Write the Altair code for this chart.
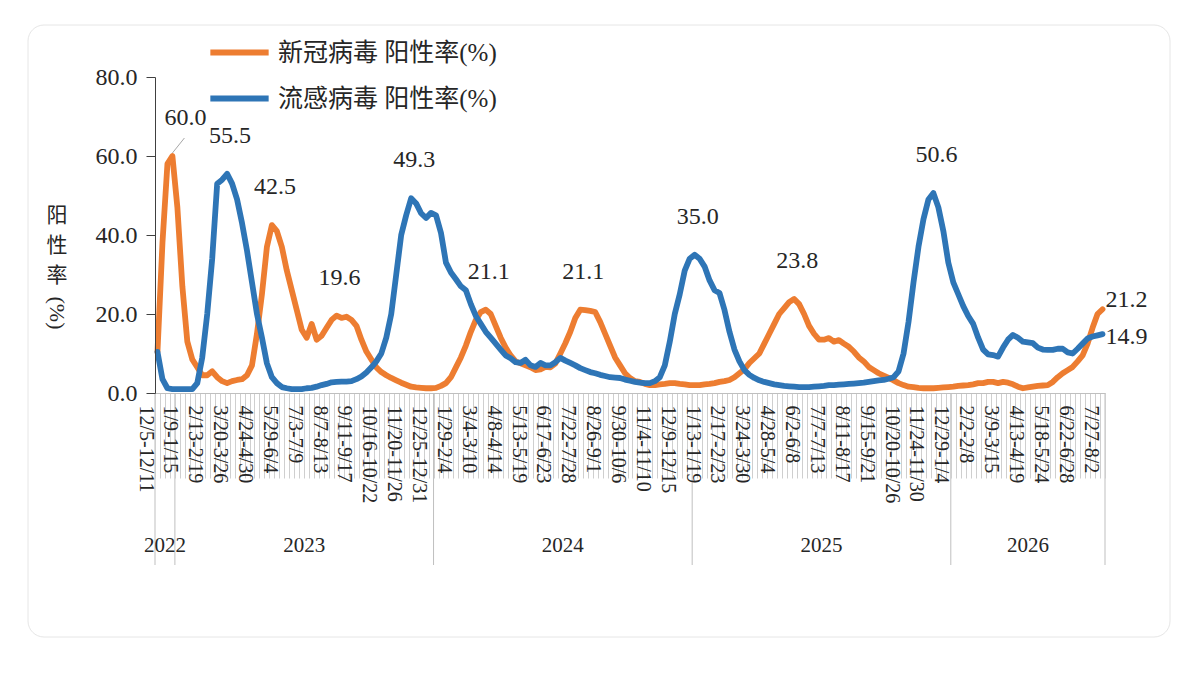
import json
import altair as alt
import pandas as pd

# ---------------- data ----------------
week_count = 191  # weekly, 12/5-12/11 (2022) ... 7/27-8/2 (2026)

tick_labels = [
    "12/5-12/11", "1/9-1/15", "2/13-2/19", "3/20-3/26", "4/24-4/30", "5/29-6/4",
    "7/3-7/9", "8/7-8/13", "9/11-9/17", "10/16-10/22", "11/20-11/26", "12/25-12/31",
    "1/29-2/4", "3/4-3/10", "4/8-4/14", "5/13-5/19", "6/17-6/23", "7/22-7/28",
    "8/26-9/1", "9/30-10/6", "11/4-11/10", "12/9-12/15", "1/13-1/19", "2/17-2/23",
    "3/24-3/30", "4/28-5/4", "6/2-6/8", "7/7-7/13", "8/11-8/17", "9/15-9/21",
    "10/20-10/26", "11/24-11/30", "12/29-1/4", "2/2-2/8", "3/9-3/15", "4/13-4/19",
    "5/18-5/24", "6/22-6/28", "7/27-8/2",
]
tick_every = 5

year_names = ["2022", "2023", "2024", "2025", "2026"]
year_weeks = [4, 52, 52, 52, 31]

series_names = ["新冠病毒 阳性率(%)", "流感病毒 阳性率(%)"]

covid = [
    10.5, 38, 58, 60.0, 47, 27, 13, 8.5, 6.5, 4.5,
    4.5, 5.5, 4, 3, 2.5, 3, 3.3, 3.5, 4.5, 7,
    15, 25, 37, 42.5, 41, 37, 31, 26, 21, 16,
    14, 17.5, 13.5, 14.5, 16.5, 18.5, 19.6, 19, 19.3, 18.5,
    17, 13.5, 10.5, 8.5, 6.5, 5.3, 4.5, 3.8, 3.2, 2.6,
    2.1, 1.6, 1.4, 1.3, 1.2, 1.2, 1.3, 1.8, 2.5, 4,
    6.5, 9, 12, 15.5, 18.5, 20.5, 21.1, 20, 17, 14,
    11.5, 9.5, 8, 7.5, 7, 6.5, 5.8, 6, 6.6, 6.5,
    7.5, 10, 12.6, 15.5, 19, 21.1, 21, 20.8, 20.5, 18,
    15, 12, 9, 7, 5, 3.8, 3, 2.8, 2.3, 2,
    2, 2.2, 2.3, 2.5, 2.5, 2.3, 2.2, 2, 2, 2,
    2.2, 2.3, 2.5, 2.8, 3, 3.3, 4, 5, 6, 7.6,
    8.8, 10, 12.5, 15, 17.5, 20, 21.5, 23, 23.8, 22.5,
    20, 17, 15, 13.5, 13.5, 13.9, 13, 13.4, 12.5, 11.7,
    10.5, 9, 8, 6.6, 5.8, 5, 4.4, 3.8, 3.2, 2.5,
    2, 1.6, 1.5, 1.3, 1.2, 1.2, 1.2, 1.3, 1.4, 1.5,
    1.6, 1.8, 1.9, 2, 2.2, 2.5, 2.5, 2.8, 2.8, 2.5,
    2.8, 2.6, 2.2, 1.6, 1.2, 1.4, 1.6, 1.8, 1.9, 2,
    2.8, 4, 5, 5.8, 6.6, 8, 9.5, 12.5, 16.5, 20,
    21.2,
]

flu = [
    10.4, 3.5, 1.2, 1.0, 1.0, 1.0, 1.0, 1.0, 2.5, 9,
    20, 34, 53, 54, 55.5, 53, 49, 43, 36, 28,
    20, 14, 7.5, 4, 2.5, 1.5, 1.2, 1.0, 1.0, 1.0,
    1.2, 1.3, 1.6, 2, 2.3, 2.7, 2.8, 2.9, 2.9, 3.0,
    3.5, 4.2, 5.2, 6.5, 8, 10, 14, 20, 30, 40,
    45, 49.3, 48, 45.5, 44.3, 45.6, 45, 40.5, 33, 30.5,
    28.8, 27, 26, 22.5, 19.5, 17.5, 15.5, 14, 12.5, 11,
    9.5, 8.8, 7.8, 7.6, 8.4, 7, 6.6, 7.6, 7, 7,
    7.8, 8.9, 8.2, 7.6, 7, 6.3, 5.8, 5.3, 5, 4.6,
    4.3, 4, 3.9, 3.8, 3.4, 3.1, 2.8, 2.6, 2.5, 2.5,
    3, 4, 7, 13, 20, 25, 31, 34, 35.0, 34,
    32, 28.5, 26, 25.3, 21, 15.5, 11, 8, 5.8, 4.6,
    3.8, 3.2, 2.8, 2.5, 2.2, 2, 1.8, 1.7, 1.6, 1.5,
    1.5, 1.5, 1.6, 1.7, 1.8, 2, 2, 2.1, 2.2, 2.3,
    2.4, 2.5, 2.6, 2.8, 3, 3.2, 3.3, 3.6, 4, 5.5,
    10, 18, 28, 37, 44, 49, 50.6, 47, 41, 33,
    28, 25, 22, 19.5, 17.5, 14, 11, 9.8, 9.6, 9.2,
    11.5, 13.5, 14.7, 14, 13, 12.8, 12.6, 11.5, 11, 10.9,
    10.9, 11.2, 11.2, 10.3, 10, 11.2, 12.5, 13.8, 14.3, 14.6,
    14.9,
]

# labelled peaks: (series position, week index)
peak_points = [(0, 3), (1, 14), (0, 23), (0, 36), (1, 51), (0, 66), (0, 85),
               (1, 108), (0, 128), (1, 156)]
end_points = [(0, 190), (1, 190)]

# ---------------- styling ----------------
colors = ["#ED7D31", "#2E75B6"]
serif = "Liberation Serif, Noto Sans CJK SC"
cjk = "Noto Sans CJK SC"
text_color = "#262626"
W, H = 950, 316
pad_left, pad_top = 147, 69

# ---------------- tables ----------------
rows = []
for name, vals in zip(series_names, [covid, flu]):
    for i, v in enumerate(vals):
        rows.append({"idx": i, "value": v, "series": name})
df = pd.DataFrame(rows)

vals_by_series = [covid, flu]
peaks_df = pd.DataFrame([
    {"idx": i, "value": vals_by_series[s][i], "series": series_names[s],
     "first": k == 0}
    for k, (s, i) in enumerate(peak_points)
])
ends_df = pd.DataFrame([
    {"idx": i, "value": vals_by_series[s][i], "series": series_names[s], "s": s}
    for (s, i) in end_points
])

starts = []
acc = 0
for n in year_weeks:
    starts.append(acc)
    acc += n
bounds_df = pd.DataFrame({"b": [s - 0.5 for s in starts] + [acc - 0.5]})
years_df = pd.DataFrame({
    "year": year_names,
    "mid": [s - 0.5 + n / 2 for s, n in zip(starts, year_weeks)],
})

label_expr = (
    f"(datum.value + 0.5) % {tick_every} == 0 && (datum.value + 0.5) / {tick_every} < {len(tick_labels)}"
    f" ? {json.dumps(tick_labels, ensure_ascii=False)}[(datum.value + 0.5) / {tick_every}] : ''"
)

x_scale = alt.Scale(domain=[-0.5, week_count - 0.5], nice=False, zero=False)
y_scale = alt.Scale(domain=[0, 80], nice=False)

x_axis = alt.Axis(
    values=[k - 0.5 for k in range(week_count + 1)],
    labelExpr=label_expr,
    labelAngle=90, labelAlign="left", labelBaseline="top",
    tickSize=85, labelPadding=-73, tickColor="#cfcfcf", tickWidth=1,
    domainColor="#bfbfbf", labelFont=serif, labelFontSize=20,
    labelColor=text_color, labelOverlap=False, labelFlush=False,
    labelBound=False, grid=False, title=None, zindex=1,
)
y_axis = alt.Axis(
    values=[0, 20, 40, 60, 80], format=".1f", tickSize=9, tickColor="#404040",
    domainColor="#404040", labelFont=serif, labelFontSize=24,
    labelColor=text_color, labelPadding=9, grid=False, title=None, zindex=1,
)

X = alt.X("idx:Q", scale=x_scale, axis=x_axis)
Y = alt.Y("value:Q", scale=y_scale, axis=y_axis)

color = alt.Color(
    "series:N",
    scale=alt.Scale(domain=series_names, range=colors),
    legend=alt.Legend(
        title=None, orient="none", legendX=52, legendY=-57,
        direction="vertical", symbolType="stroke", symbolSize=3400,
        symbolStrokeWidth=6, labelFont=serif, labelFontSize=25,
        labelColor=text_color, labelOffset=6, rowPadding=-27, labelLimit=500,
    ),
)

card = alt.Chart(pd.DataFrame({"k": [0]})).mark_rect(
    fill="white", fillOpacity=0, stroke="#e6e6e6", strokeWidth=1, cornerRadius=16
).encode(
    x=alt.value(28 - 8 - pad_left), x2=alt.value(1170 - 8 - pad_left),
    y=alt.value(25 - 8 - pad_top), y2=alt.value(637 - 8 - pad_top),
)

year_rules = alt.Chart(bounds_df).mark_rule(color="#bfbfbf", strokeWidth=1).encode(
    x=alt.X("b:Q", scale=x_scale, axis=x_axis),
    y=alt.value(H), y2=alt.value(H + 172),
)

year_text = alt.Chart(years_df).mark_text(
    font=serif, fontSize=21, color=text_color, baseline="middle"
).encode(
    x=alt.X("mid:Q", scale=x_scale, axis=x_axis),
    y=alt.value(H + 153),
    text="year:N",
)

lines = alt.Chart(df).mark_line(strokeWidth=5.8, strokeJoin="round", strokeCap="round").encode(
    x=X, y=Y, color=color, order="idx:Q",
)

leader = alt.Chart(peaks_df).transform_filter("datum.first").mark_rule(
    color="#a6a6a6", strokeWidth=1, yOffset=-3, x2Offset=12, y2Offset=-18
).encode(x=X, y=Y, x2="idx:Q", y2="value:Q")

label_size = 24

peak_text = alt.Chart(peaks_df).transform_filter("!datum.first").mark_text(
    font=serif, fontSize=label_size, color=text_color, dx=3, dy=-38, baseline="middle"
).encode(x=X, y=Y, text=alt.Text("value:Q", format=".1f"))

first_text = alt.Chart(peaks_df).transform_filter("datum.first").mark_text(
    font=serif, fontSize=label_size, color=text_color, dx=13, dy=-38, baseline="middle"
).encode(x=X, y=Y, text=alt.Text("value:Q", format=".1f"))

end_text_a = alt.Chart(ends_df).transform_filter("datum.s == 0").mark_text(
    font=serif, fontSize=label_size, color=text_color, align="left", dx=3, dy=-9, baseline="middle"
).encode(x=X, y=Y, text=alt.Text("value:Q", format=".1f"))

end_text_b = alt.Chart(ends_df).transform_filter("datum.s == 1").mark_text(
    font=serif, fontSize=label_size, color=text_color, align="left", dx=3, dy=3, baseline="middle"
).encode(x=X, y=Y, text=alt.Text("value:Q", format=".1f"))

ytitle = alt.Chart(pd.DataFrame({"t": ["阳\n性\n率"]})).mark_text(
    font=cjk, fontSize=21, color=text_color, lineBreak="\n", lineHeight=30,
    baseline="top", align="center"
).encode(x=alt.value(57 - 8 - pad_left), y=alt.value(205 - 8 - pad_top), text="t:N")

ytitle2 = alt.Chart(pd.DataFrame({"t": ["(%)"]})).mark_text(
    font=serif, fontSize=22, color=text_color, angle=90, baseline="middle", align="center"
).encode(x=alt.value(57 - 8 - pad_left), y=alt.value(313 - 8 - pad_top), text="t:N")

chart = alt.layer(
    card, year_rules, year_text, lines, leader, peak_text, first_text,
    end_text_a, end_text_b, ytitle, ytitle2,
).properties(
    width=W, height=H,
    autosize=alt.AutoSizeParams(type="none"),
    padding={"left": pad_left, "top": pad_top, "right": 1170 - pad_left - W, "bottom": 640 - pad_top - H},
    background="white",
).configure_view(strokeWidth=0)

chart.save("out.html", embed_options={"renderer": "svg", "actions": False})
